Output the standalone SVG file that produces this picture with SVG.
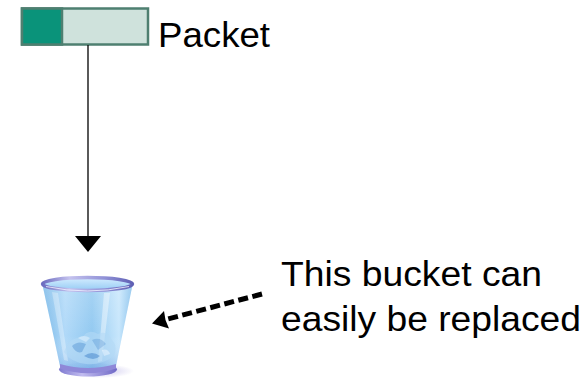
<svg xmlns="http://www.w3.org/2000/svg" width="587" height="380" viewBox="0 0 587 380">
  <style>
    .label { font-family: "Liberation Sans", Arial, sans-serif; font-size: 35px; fill: #000; }
    .conn { stroke: #000; fill: none; }
  </style>
  <defs>
    <linearGradient id="bodyGrad" x1="0" y1="0" x2="1" y2="0">
      <stop offset="0" stop-color="#6fb3e6"/>
      <stop offset="0.25" stop-color="#acd7f8"/>
      <stop offset="0.55" stop-color="#8cc6f0"/>
      <stop offset="0.85" stop-color="#c4e5fc"/>
      <stop offset="1" stop-color="#7cbbea"/>
    </linearGradient>
    <linearGradient id="bodyShade" x1="0" y1="0" x2="0" y2="1">
      <stop offset="0" stop-color="#ffffff" stop-opacity="0.2"/>
      <stop offset="0.6" stop-color="#ffffff" stop-opacity="0"/>
      <stop offset="1" stop-color="#5a8fd8" stop-opacity="0.35"/>
    </linearGradient>
    <linearGradient id="rimGrad" x1="0" y1="0" x2="1" y2="0">
      <stop offset="0" stop-color="#6c6cc0"/>
      <stop offset="0.3" stop-color="#c4c2ee"/>
      <stop offset="0.7" stop-color="#8f90d6"/>
      <stop offset="1" stop-color="#5f60b4"/>
    </linearGradient>
    <linearGradient id="baseGrad" x1="0" y1="0" x2="1" y2="0">
      <stop offset="0" stop-color="#7f7ad0"/>
      <stop offset="0.4" stop-color="#c2bdf0"/>
      <stop offset="1" stop-color="#6f68c6"/>
    </linearGradient>
    <radialGradient id="shadowGrad" cx="0.5" cy="0.5" r="0.5">
      <stop offset="0" stop-color="#8a7fd6" stop-opacity="0.45"/>
      <stop offset="1" stop-color="#8a7fd6" stop-opacity="0"/>
    </radialGradient>
    <linearGradient id="innerGrad" x1="0" y1="0" x2="0" y2="1">
      <stop offset="0" stop-color="#d2ecff"/>
      <stop offset="1" stop-color="#98ccf4"/>
    </linearGradient>
  </defs>

  <!-- packet: header field + payload field -->
  <g id="packet">
    <rect x="22" y="8.5" width="126" height="36" fill="#cfe2dc" stroke="#4e7f70" stroke-width="2.5"/>
    <rect x="22" y="8.5" width="40" height="36" fill="#0a937a" stroke="#4e7f70" stroke-width="2.5"/>
    <text class="label" x="158" y="47" font-size="33" textLength="112" lengthAdjust="spacingAndGlyphs">Packet</text>
  </g>

  <!-- trash bucket -->
  <g id="bucket">
    <ellipse cx="100" cy="371" rx="34" ry="7" fill="url(#shadowGrad)"/>
    <!-- base ring -->
    <ellipse cx="88" cy="369.5" rx="29" ry="7" fill="url(#baseGrad)"/>
    <!-- body -->
    <path d="M42.5 285 L60 366 Q88 374 116 366 L132.5 285 Z" fill="url(#bodyGrad)" opacity="0.95"/>
    <path d="M42.5 285 L60 366 Q88 374 116 366 L132.5 285 Z" fill="url(#bodyShade)"/>
    <!-- inner back wall -->
    <ellipse cx="87.5" cy="284" rx="44" ry="6" fill="url(#innerGrad)"/>
    <!-- highlights -->
    <path d="M52 292 L64 360 L68 361 L58 293 Z" fill="#ffffff" opacity="0.3"/>
    <path d="M104 293 L98 362 L102 361 L110 293 Z" fill="#ffffff" opacity="0.4"/>
    <!-- crumpled paper -->
    <g opacity="0.6">
      <path d="M64 352 Q70 336 82 338 Q88 328 98 334 Q108 330 112 340 Q118 346 114 356 Q100 366 86 364 Q70 362 64 352 Z" fill="#b4daf6"/>
      <path d="M72 346 Q78 340 86 344 L82 352 Q76 354 72 346 Z" fill="#6ea6dc"/>
      <path d="M92 340 Q100 336 106 344 L98 350 Z" fill="#7fb2e2"/>
      <path d="M84 356 Q92 350 100 356 Q94 362 84 356 Z" fill="#5f98d4"/>
      <path d="M78 338 Q84 334 90 338 L86 342 Z" fill="#e8f5ff"/>
      <path d="M102 350 Q108 348 110 354 L104 356 Z" fill="#e8f5ff"/>
    </g>
    <!-- bottom lip -->
    <path d="M60 364 Q88 372 116 364 L116 368.5 Q88 378 60 368.5 Z" fill="#8f88d8"/>
    <!-- rim -->
    <ellipse cx="87.5" cy="284" rx="45" ry="6.5" fill="none" stroke="url(#rimGrad)" stroke-width="3.5"/>
    <path d="M46 286.5 Q87.5 295.5 129 286.5" fill="none" stroke="#f2f2ff" stroke-width="1" opacity="0.8"/>
  </g>

  <!-- annotation -->
  <g id="note">
    <text class="label" x="281" y="286" textLength="261" lengthAdjust="spacingAndGlyphs">This bucket can</text>
    <text class="label" x="281" y="331" textLength="300" lengthAdjust="spacingAndGlyphs">easily be replaced</text>
  </g>

  <!-- connectors -->
  <g id="connectors">
    <line class="conn" x1="88" y1="45" x2="88" y2="237" stroke-width="1.3"/>
    <polygon points="75,236 101,236 88,252" fill="#000"/>
    <line class="conn" x1="262" y1="294" x2="166" y2="319.5" stroke-width="5" stroke-dasharray="10 4.5"/>
    <polygon points="152,323.5 169,328.5 165.5,320 164,311" fill="#000"/>
  </g>
</svg>
